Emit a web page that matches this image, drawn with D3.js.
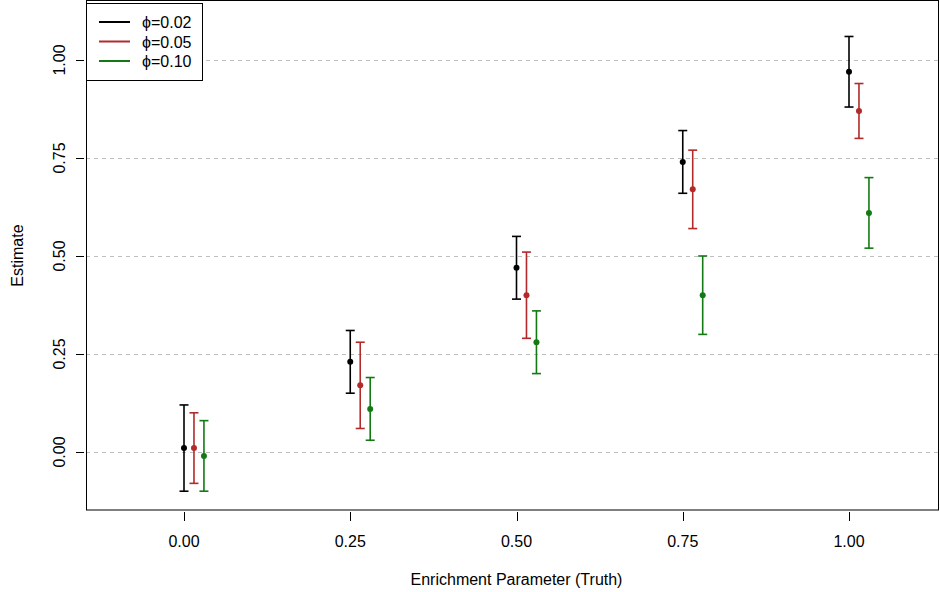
<!DOCTYPE html>
<html>
<head>
<meta charset="utf-8">
<script src="https://cdn.jsdelivr.net/npm/d3@7"></script>
<style>
  body { margin: 0; background: #fff; }
  text { font-family: "Liberation Sans", Arial, sans-serif; }
</style>
</head>
<body>
<div id="chart"></div>
<script>
// truth values on the x axis
const truth = [0, 0.25, 0.5, 0.75, 1.0];
const xTicks = [0, 0.25, 0.5, 0.75, 1.0];
const yTicks = [0, 0.25, 0.5, 0.75, 1.0];

// estimates and interval ends, one array per phi
const est02 = [0.01, 0.23, 0.47, 0.74, 0.97];
const lo02  = [-0.10, 0.15, 0.39, 0.66, 0.88];
const hi02  = [0.12, 0.31, 0.55, 0.82, 1.06];

const est05 = [0.01, 0.17, 0.40, 0.67, 0.87];
const lo05  = [-0.08, 0.06, 0.29, 0.57, 0.80];
const hi05  = [0.10, 0.28, 0.51, 0.77, 0.94];

const est10 = [-0.01, 0.11, 0.28, 0.40, 0.61];
const lo10  = [-0.10, 0.03, 0.20, 0.30, 0.52];
const hi10  = [0.08, 0.19, 0.36, 0.50, 0.70];

const seriesNames = ["\u03d5=0.02", "\u03d5=0.05", "\u03d5=0.10"];
const offsets = [0, 0.015, 0.03];
const colors = ["#000000", "#b22a2a", "#137a13"];

const series = [
  { est: est02, lo: lo02, hi: hi02 },
  { est: est05, lo: lo05, hi: hi05 },
  { est: est10, lo: lo10, hi: hi10 }
];

const width = 940, height = 592;
const box = { left: 86, right: 939, top: 1, bottom: 510 };

const svg = d3.select('#chart').append('svg')
  .attr('width', width)
  .attr('height', height);

// x: 0 -> 184px, 1 -> 849px ; y: 0 -> 452px, 1 -> 60px
const x = d3.scaleLinear().domain([0, 1]).range([184, 849]);
const y = d3.scaleLinear().domain([0, 1]).range([452, 60]);

// grid
svg.selectAll('.grid')
  .data(yTicks)
  .enter().append('line')
  .attr('x1', box.left).attr('x2', box.right)
  .attr('y1', d => Math.round(y(d)) + 0.5)
  .attr('y2', d => Math.round(y(d)) + 0.5)
  .style('stroke', '#bdbdbd')
  .style('stroke-dasharray', '4,4');

// error bars + points
series.forEach((s, k) => {
  const g = svg.append('g');
  const cx = (i) => x(truth[i] + offsets[k]);
  truth.forEach((t, i) => {
    g.append('line')
      .attr('x1', cx(i)).attr('x2', cx(i))
      .attr('y1', y(s.lo[i])).attr('y2', y(s.hi[i]))
      .style('stroke', colors[k]).style('stroke-width', 1.6);
    [s.lo[i], s.hi[i]].forEach(v => {
      g.append('line')
        .attr('x1', cx(i) - 4.5).attr('x2', cx(i) + 4.5)
        .attr('y1', y(v)).attr('y2', y(v))
        .style('stroke', colors[k]).style('stroke-width', 1.6);
    });
    g.append('circle')
      .attr('cx', cx(i)).attr('cy', y(s.est[i]))
      .attr('r', 3)
      .style('fill', colors[k]);
  });
});

// plot box
svg.append('rect')
  .attr('x', box.left + 0.5).attr('y', box.top - 0.5)
  .attr('width', box.right - box.left - 1)
  .attr('height', box.bottom - box.top + 0.5)
  .style('fill', 'none').style('stroke', '#000').style('stroke-width', 1);

// x axis ticks + labels
svg.selectAll('.xtick')
  .data(xTicks)
  .enter().append('line')
  .attr('x1', d => Math.round(x(d)) + 0.5).attr('x2', d => Math.round(x(d)) + 0.5)
  .attr('y1', 512).attr('y2', 521)
  .style('stroke', '#000');
svg.selectAll('.xlab')
  .data(xTicks)
  .enter().append('text')
  .attr('x', d => x(d)).attr('y', 547)
  .attr('text-anchor', 'middle')
  .style('font-size', '16px')
  .text(d => d3.format('.2f')(d));

// y axis ticks + labels
svg.selectAll('.ytick')
  .data(yTicks)
  .enter().append('line')
  .attr('x1', 76).attr('x2', 84)
  .attr('y1', d => Math.round(y(d)) + 0.5).attr('y2', d => Math.round(y(d)) + 0.5)
  .style('stroke', '#000');
svg.selectAll('.ylab')
  .data(yTicks)
  .enter().append('text')
  .attr('transform', d => `translate(65,${y(d)}) rotate(-90)`)
  .attr('text-anchor', 'middle')
  .style('font-size', '16px')
  .text(d => d3.format('.2f')(d));

// axis titles
svg.append('text')
  .attr('x', (box.left + box.right) / 2 + 4).attr('y', 585)
  .attr('text-anchor', 'middle')
  .style('font-size', '16px')
  .text('Enrichment Parameter (Truth)');
svg.append('text')
  .attr('transform', `translate(23,${(box.top + box.bottom) / 2}) rotate(-90)`)
  .attr('text-anchor', 'middle')
  .style('font-size', '16px')
  .text('Estimate');

// legend
const legend = svg.append('g');
legend.append('rect')
  .attr('x', box.left + 0.5).attr('y', 3.5)
  .attr('width', 116).attr('height', 77)
  .style('fill', '#fff').style('stroke', '#000');
seriesNames.forEach((name, k) => {
  const ly = 22 + k * 19.5;
  legend.append('line')
    .attr('x1', 99).attr('x2', 130)
    .attr('y1', ly).attr('y2', ly)
    .style('stroke', colors[k]).style('stroke-width', 2);
  legend.append('text')
    .attr('x', 142).attr('y', ly + 6)
    .style('font-size', '16px')
    .text(name);
});
</script>
</body>
</html>
